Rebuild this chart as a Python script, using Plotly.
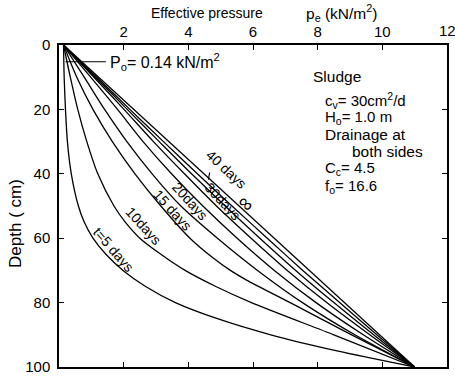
import plotly.graph_objects as go

# ---- data (depth in cm, effective pressure in kN/m2) ----
t5_depth = [0, 10, 20, 30, 40, 50, 55, 60, 65, 70, 75, 80, 85, 90, 95, 100]
t5_pe = [0.14, 0.16, 0.2, 0.26, 0.38, 0.6, 0.78, 1.05, 1.45, 1.98, 2.68, 3.6, 4.9, 6.55, 8.6, 11.0]

t10_depth = [0, 10, 20, 30, 40, 50, 55, 60, 65, 70, 75, 80, 90, 100]
t10_pe = [0.14, 0.35, 0.58, 0.86, 1.2, 1.7, 2.05, 2.5, 3.15, 3.9, 4.85, 5.95, 8.5, 11.0]

t15_depth = [0, 10, 20, 30, 40, 50, 60, 66, 70, 73, 80, 90, 100]
t15_pe = [0.14, 0.55, 1.05, 1.65, 2.35, 3.15, 4.05, 4.75, 5.3, 5.8, 7.15, 9.05, 11.0]

t20_depth = [0, 10, 20, 30, 40, 50, 60, 70, 80, 90, 100]
t20_pe = [0.14, 0.78, 1.41, 2.1, 2.88, 3.77, 4.9, 6.14, 7.53, 9.15, 11.0]

t25_depth = [0, 10, 20, 30, 40, 50, 60, 70, 80, 90, 100]
t25_pe = [0.14, 0.98, 1.81, 2.6, 3.48, 4.45, 5.51, 6.66, 7.95, 9.41, 11.0]

t30_depth = [0, 10, 20, 30, 40, 50, 60, 70, 80, 90, 100]
t30_pe = [0.14, 1.08, 2.01, 2.92, 3.88, 4.87, 5.94, 7.06, 8.28, 9.61, 11.0]

t35_depth = [0, 10, 20, 30, 40, 50, 60, 70, 80, 90, 100]
t35_pe = [0.14, 1.13, 2.11, 3.1, 4.1, 5.14, 6.21, 7.32, 8.5, 9.73, 11.0]

t40_depth = [0, 10, 20, 30, 40, 50, 60, 70, 80, 90, 100]
t40_pe = [0.14, 1.17, 2.19, 3.23, 4.28, 5.35, 6.44, 7.54, 8.68, 9.83, 11.0]

tinf_depth = [0, 100]
tinf_pe = [0.14, 11.0]

x_ticks = [2, 4, 6, 8, 10]
y_ticks = [0, 20, 40, 60, 80, 100]

curves = [
    (t5_pe, t5_depth), (t10_pe, t10_depth), (t15_pe, t15_depth), (t20_pe, t20_depth),
    (t25_pe, t25_depth), (t30_pe, t30_depth), (t35_pe, t35_depth), (t40_pe, t40_depth),
    (tinf_pe, tinf_depth),
]

FONT = "Liberation Sans, Arial, sans-serif"

fig = go.Figure()
for xs, ys in curves:
    fig.add_trace(go.Scatter(x=xs, y=ys, mode="lines",
                             line=dict(color="black", width=1.3, shape="spline", smoothing=0.7),
                             showlegend=False, hoverinfo="skip"))

axis_common = dict(showline=True, linecolor="black", linewidth=1.5, mirror="ticks",
                   ticks="inside", ticklen=5, tickwidth=1.2, tickcolor="black",
                   showgrid=False, zeroline=False,
                   tickfont=dict(family=FONT, size=15, color="black"))

fig.update_xaxes(range=[0, 12], side="top", tickvals=x_ticks,
                 ticktext=[str(v) for v in x_ticks], **axis_common)
fig.update_yaxes(range=[100, 0], tickvals=y_ticks,
                 ticktext=[str(v) for v in y_ticks], ticklabelstandoff=4, **axis_common)

ann = []
def add(text, x, y, size=15, angle=0, xanchor="center", xref="x", yref="y"):
    ann.append(dict(text=text, x=x, y=y, xref=xref, yref=yref, showarrow=False,
                    textangle=angle, xanchor=xanchor, yanchor="middle",
                    font=dict(family=FONT, size=size, color="black")))

# last top tick label at the corner
add("12", 12, 1.046, size=15, yref="paper")

# axis titles
add("Effective pressure", (208 - 59) / 32.5, 1.098, size=14, yref="paper")
add("p<sub>e</sub> (kN/m<sup>2</sup>)", (305 - 59) / 32.5, 1.098, size=15.5, xanchor="left",
    yref="paper")
add("Depth ( cm)", -0.112, 0.446, size=17, angle=-90, xref="paper", yref="paper")

# P0 label
add("P<sub>o</sub>= 0.14 kN/m<sup>2</sup>", 1.5, 5.2, size=16, xanchor="left")

# curve labels
add("t=5 days", 1.67, 63.4, size=14, angle=49)
add("10days", 2.62, 56.2, size=14, angle=48)
add("15 days", 3.51, 51.3, size=14, angle=48)
add("20days", 4.06, 48.3, size=14, angle=48)
add("30days", 5.05, 48.6, size=14, angle=47)
add("40 days", 5.17, 38.5, size=14, angle=43)
add("∞", 5.78, 49.2, size=20, angle=43)

# info block
add("Sludge", 7.8, 9.8, size=15.5, xanchor="left")
add("c<sub>v</sub>= 30cm<sup>2</sup>/d", 8.18, 17.1, size=15, xanchor="left")
add("H<sub>o</sub>= 1.0 m", 8.18, 22.6, size=15, xanchor="left")
add("Drainage at", 8.18, 27.7, size=15.5, xanchor="left")
add("both sides", 9.0, 33.2, size=15.5, xanchor="left")
add("C<sub>c</sub>= 4.5", 8.18, 38.5, size=15, xanchor="left")
add("f<sub>o</sub>= 16.6", 8.18, 44.0, size=15, xanchor="left")

fig.update_layout(
    width=455, height=381,
    margin=dict(l=59, r=6, t=45, b=11),
    paper_bgcolor="white", plot_bgcolor="white",
    annotations=ann,
    shapes=[
        dict(type="line", xref="x", yref="y", x0=0.2, x1=1.45, y0=5.2, y1=5.2,
             line=dict(color="black", width=1.2)),
        dict(type="line", xref="x", yref="y", x0=4.66, x1=4.62, y0=39.6, y1=41.8,
             line=dict(color="black", width=1.2)),
    ],
)

fig.write_html("out.html")
